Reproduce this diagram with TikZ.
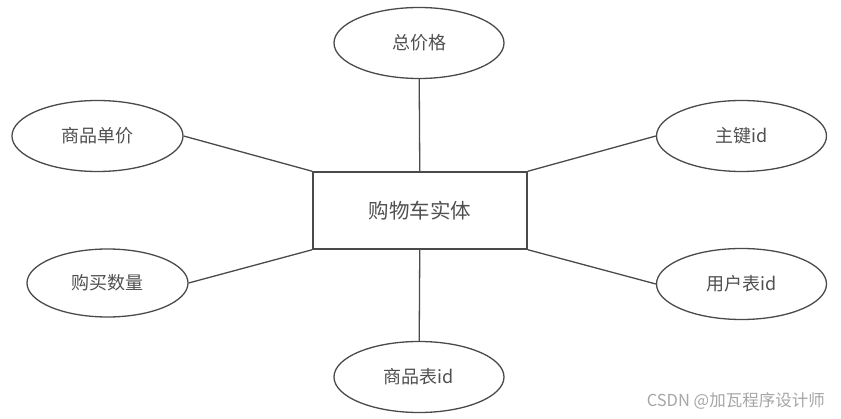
\documentclass[tikz,border=0pt]{standalone}
\usepackage{fontspec}
\setmainfont{Noto Sans CJK SC}
\usetikzlibrary{shapes.geometric, positioning}

\definecolor{linegray}{HTML}{4A4A4A}
\definecolor{textgray}{HTML}{505050}

\begin{document}
\begin{tikzpicture}[
    x=1pt, y=-1pt,
    entity/.style={rectangle, draw=linegray, line width=1.4pt, minimum width=214pt, minimum height=77pt, inner sep=0pt, text=textgray, font=\fontsize{20.5}{24}\selectfont},
    attr/.style={ellipse, draw=linegray, line width=1.3pt, minimum width=170pt, minimum height=71pt, inner sep=0pt, text=textgray, font=\fontsize{18}{21}\selectfont},
    link/.style={draw=linegray, line width=1.3pt}
]
\useasboundingbox (0,0) rectangle (841,419);

% Nodes
\node (cart) [entity] at (420,210.5) {购物车实体};
\node (total) [attr] at (419,43) {总价格};
\node (price) [attr, minimum width=171pt] at (97.5,136) {商品单价};
\node (qty) [attr, minimum width=161pt, minimum height=68pt] at (107.5,283) {购买数量};
\node (key) [attr] at (741.5,136) {主键id};
\node (user) [attr] at (741.5,284) {用户表id};
\node (goods) [attr] at (419,377) {商品表id};
\node (mark) [text=gray!70, font=\fontsize{16.5}{19}\selectfont, anchor=east, inner sep=0pt] at (825,401) {CSDN @加瓦程序设计师};

% Lines
\draw [link] (total) -- (cart);
\draw [link] (goods) -- (cart);
\draw [link] (price.east) -- (cart.north west);
\draw [link] (qty.east) -- (cart.south west);
\draw [link] (key.west) -- (cart.north east);
\draw [link] (user.west) -- (cart.south east);

\end{tikzpicture}
\end{document}
